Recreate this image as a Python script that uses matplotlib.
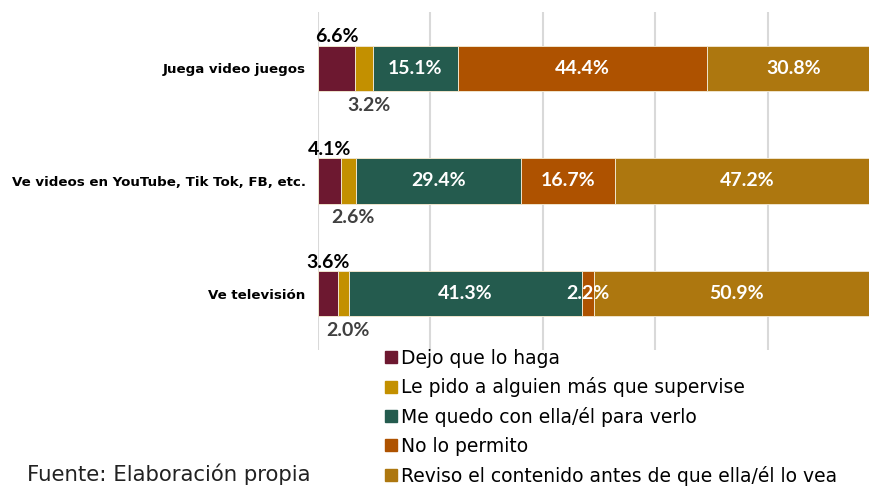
import numpy as np
import matplotlib
matplotlib.use("Agg")
import matplotlib.pyplot as plt
from matplotlib.lines import Line2D

# data
categories = ["Juega video juegos", "Ve videos en YouTube, Tik Tok, FB, etc.", "Ve televisión"]
series = ["Dejo que lo haga",
          "Le pido a alguien más que supervise",
          "Me quedo con ella/él para verlo",
          "No lo permito",
          "Reviso el contenido antes de que ella/él lo vea"]
values = np.array([
    [6.6, 3.2, 15.1, 44.4, 30.8],
    [4.1, 2.6, 29.4, 16.7, 47.2],
    [3.6, 2.0, 41.3, 2.2, 50.9],
])
colors = ["#6D1830", "#C39000", "#245B4E", "#AE5200", "#AD770F"]

W, H = 869, 487
fig = plt.figure(figsize=(W / 100, H / 100), dpi=100)
# axis runs past the right edge, like the original crop
ax = fig.add_axes([318 / W, (H - 350) / H, 562 / W, 338 / H])

y = np.arange(len(categories))
left = np.zeros(len(categories))
for j, name in enumerate(series):
    ax.barh(y, values[:, j], left=left, height=0.4, color=colors[j],
            edgecolor="#EFE4CC", linewidth=0.7, zorder=3)
    for i in range(len(categories)):
        v = values[i, j]
        cx = left[i] + v / 2
        txt = f"{v:.1f}%"
        if j == 0:
            ax.text(cx, y[i] - 0.205, txt, ha="center", va="bottom", fontsize=14,
                    fontweight="bold", color="black", family="Lato", zorder=5)
        elif j == 1:
            ax.text(cx + 0.8, y[i] + 0.25, txt, ha="center", va="top", fontsize=14,
                    fontweight="bold", color="#404040", family="Lato", zorder=5)
        else:
            ax.text(cx, y[i], txt, ha="center", va="center", fontsize=14,
                    fontweight="bold", color="white", family="Lato", zorder=5)
    left += values[:, j]

ax.set_xlim(0, 100)
ax.set_ylim(2.5, -0.5)
ax.set_xticks([0, 20, 40, 60, 80, 100])
ax.xaxis.grid(True, color="#D9D9D9", linewidth=1.5, zorder=0)
ax.tick_params(axis="x", length=0, labelbottom=False)
ax.tick_params(axis="y", length=0, pad=9)
ax.set_yticks(y)
ax.set_yticklabels(categories, fontsize=9.6, fontweight="bold", family="DejaVu Sans")
for s in ax.spines.values():
    s.set_visible(False)

handles = [Line2D([], [], marker="s", linestyle="none", markersize=9,
                  markerfacecolor=c, markeredgecolor=c) for c in colors]
fig.legend(handles, series, loc="upper left", bbox_to_anchor=(378 / W, 1 - 341 / H),
           frameon=False, handlelength=0.6, handletextpad=0.25, labelspacing=0.52,
           prop={"family": "DejaVu Sans", "size": 13.5}, borderaxespad=0)

fig.text(27 / W, 1 - 474 / H, "Fuente: Elaboración propia", fontsize=15.3,
         family="DejaVu Sans", color="#222222", va="center")

fig.savefig("out.png", dpi=100)
